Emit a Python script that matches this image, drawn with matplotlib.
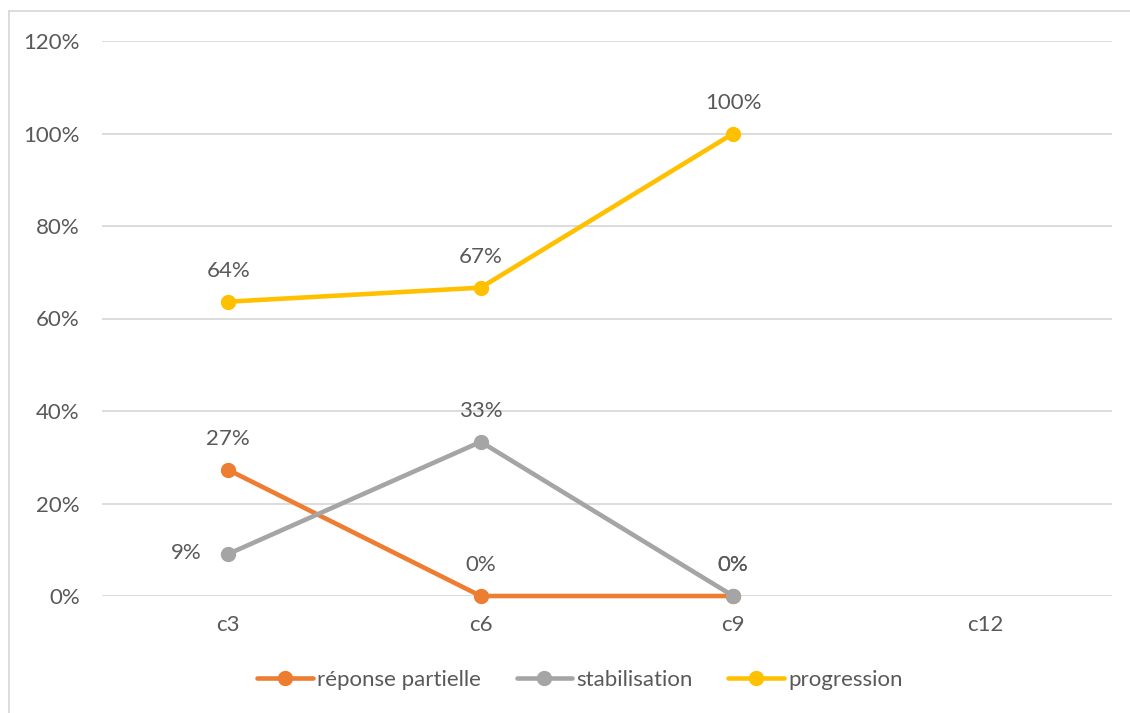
import matplotlib
matplotlib.use("Agg")
import matplotlib.pyplot as plt
from matplotlib.lines import Line2D
from matplotlib.ticker import FuncFormatter

categories = ["c3", "c6", "c9", "c12"]
reponse_partielle = [3 / 11, 0.0, 0.0]
stabilisation = [1 / 11, 1 / 3, 0.0]
progression = [7 / 11, 2 / 3, 1.0]
y_ticks = [0.0, 0.2, 0.4, 0.6, 0.8, 1.0, 1.2]

plt.rcParams["font.family"] = ["Lato", "DejaVu Sans"]
TEXT = "#595959"
GRID = "#d9d9d9"
FS = 16

fig = plt.figure(figsize=(11.30, 7.13), dpi=100)
ax = fig.add_axes([102 / 1130, 1 - 596 / 713, (1112 - 102) / 1130, (596 - 41) / 713])

series = [
    ("réponse partielle", reponse_partielle, "#ED7D31"),
    ("stabilisation", stabilisation, "#A5A5A5"),
    ("progression", progression, "#FFC000"),
]

x = list(range(len(categories)))
for name, vals, color in series:
    ax.plot(x[: len(vals)], vals, color=color, lw=3.3, marker="o", ms=10,
            label=name, solid_capstyle="round", zorder=3, clip_on=False)

# value labels
for name, vals, color in series:
    for i, v in enumerate(vals):
        txt = f"{v * 100:.0f}%"
        if name == "stabilisation" and i == 0:
            ax.annotate(txt, (i, v), xytext=(-30, 1), textcoords="offset points",
                        ha="center", va="center", fontsize=FS, color=TEXT)
        else:
            ax.annotate(txt, (i, v), xytext=(0, 22), textcoords="offset points",
                        ha="center", va="center", fontsize=FS, color=TEXT)

ax.set_xlim(-0.5, 3.5)
ax.set_ylim(0, 1.2)
ax.set_yticks(y_ticks)
ax.yaxis.set_major_formatter(FuncFormatter(lambda v, p: f"{v * 100:.0f}%"))
ax.set_xticks(x)
ax.set_xticklabels(categories)
ax.grid(axis="y", color=GRID, lw=1.3, zorder=0)
ax.set_axisbelow(True)
for s in ax.spines.values():
    s.set_visible(False)
ax.tick_params(axis="both", length=0, labelsize=FS, labelcolor=TEXT)
ax.tick_params(axis="y", pad=16)
ax.tick_params(axis="x", pad=14)

leg = ax.legend(loc="center", bbox_to_anchor=(580 / 1130, 1 - 680 / 713),
                bbox_transform=fig.transFigure, ncol=3, frameon=False,
                fontsize=FS, handlelength=2.5, handletextpad=0.2,
                columnspacing=1.6)
for t in leg.get_texts():
    t.set_color(TEXT)

# chart frame (top and left edges)
fig.add_artist(Line2D([9 / 1130, 1], [1 - 11 / 713, 1 - 11 / 713],
                      transform=fig.transFigure, color=GRID, lw=1.3))
fig.add_artist(Line2D([9 / 1130, 9 / 1130], [0, 1 - 11 / 713],
                      transform=fig.transFigure, color=GRID, lw=1.3))

fig.savefig("out.png", dpi=100, facecolor="white")
